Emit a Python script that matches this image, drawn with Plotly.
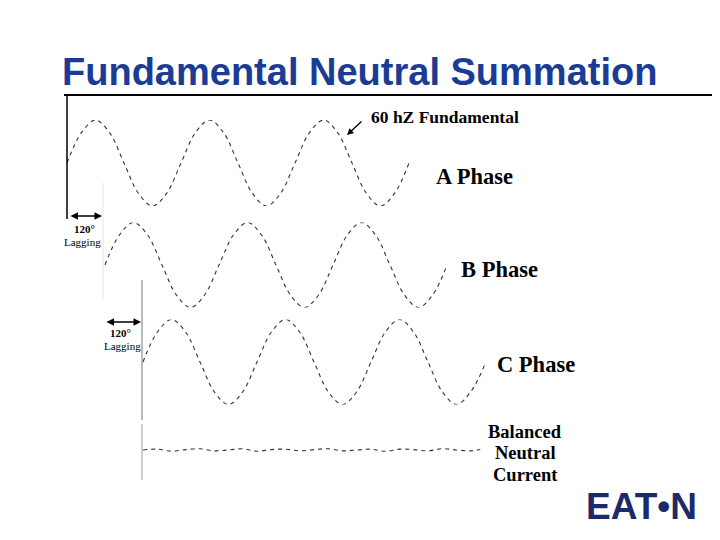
import plotly.graph_objects as go

# ---------------- data (phase angle in degrees, normalised current) ----------------
A_deg = [0, 45, 90, 135, 180, 225, 270, 315, 360, 405, 450, 495, 540, 585, 630, 675,
         720, 765, 810, 855, 900, 945, 990, 1035, 1080]
A_val = [0, 0.7, 1, 0.7, 0, -0.7, -1, -0.7, 0, 0.7, 1, 0.7, 0, -0.7, -1, -0.7,
         0, 0.7, 1, 0.7, 0, -0.7, -1, -0.7, 0]

B_deg = [120, 165, 210, 255, 300, 345, 390, 435, 480, 525, 570, 615, 660, 705, 750, 795,
         840, 885, 930, 975, 1020, 1065, 1110, 1155, 1200]
B_val = [0, 0.7, 1, 0.7, 0, -0.7, -1, -0.7, 0, 0.7, 1, 0.7, 0, -0.7, -1, -0.7,
         0, 0.7, 1, 0.7, 0, -0.7, -1, -0.7, 0]

C_deg = [240, 285, 330, 375, 420, 465, 510, 555, 600, 645, 690, 735, 780, 825, 870, 915,
         960, 1005, 1050, 1095, 1140, 1185, 1230, 1275, 1320]
C_val = [0, 0.7, 1, 0.7, 0, -0.7, -1, -0.7, 0, 0.7, 1, 0.7, 0, -0.7, -1, -0.7,
         0, 0.7, 1, 0.7, 0, -0.7, -1, -0.7, -0.05]

N_deg = [240, 285, 330, 375, 420, 465, 510, 555, 600, 645, 690, 735, 780, 825, 870, 915,
         960, 1005, 1050, 1095, 1140, 1185, 1230, 1275, 1305]
N_val = [0, 0.02, -0.03, 0.01, 0.03, -0.02, 0, 0.03, -0.03, 0.01, 0.02, -0.02, 0.01,
         0.03, -0.02, 0, 0.02, -0.03, 0.02, 0.01, -0.02, 0.03, 0, -0.02, 0.01]

title_text = "Fundamental Neutral Summation"
wave_labels = ["A Phase", "B Phase", "C Phase"]
neutral_label = ["Balanced", "Neutral", "Current"]
fund_label = "60 hZ Fundamental"
lag_label = ["120°", "Lagging"]
logo_text = "EAT•N"

# ---------------- layout helpers (page pixel -> paper) ----------------
W, H = 720, 540
OFF = 8  # default page body margin
def px(x):
    return (x - OFF) / W
def py(y):
    return 1 - (y - OFF) / H

PX_PER_DEG = 114 / 360.0
X0_PX = 67
x_range = [(OFF - X0_PX) / PX_PER_DEG, (W + OFF - X0_PX) / PX_PER_DEG]

def dom(center, amp):
    return [1 - (center + amp - OFF) / H, 1 - (center - amp - OFF) / H]

fig = go.Figure()
wave_line = dict(color="#333333", width=1.1, dash="4px,4px", shape="spline")
for xs, ys, ax in [(A_deg, A_val, "y"), (B_deg, B_val, "y2"), (C_deg, C_val, "y3"),
                   (N_deg, N_val, "y4")]:
    fig.add_trace(go.Scatter(x=xs, y=ys, mode="lines", yaxis=ax, line=wave_line,
                             hoverinfo="skip", showlegend=False))

hidden = dict(visible=False, range=[-1, 1], fixedrange=True)
fig.update_layout(
    width=W, height=H,
    margin=dict(l=0, r=0, t=0, b=0),
    paper_bgcolor="white", plot_bgcolor="white",
    xaxis=dict(visible=False, range=x_range, domain=[0, 1]),
    yaxis=dict(domain=dom(163, 43), **hidden),
    yaxis2=dict(domain=dom(265, 42.5), **hidden),
    yaxis3=dict(domain=dom(362, 42.5), **hidden),
    yaxis4=dict(domain=dom(450, 42), **hidden),
    showlegend=False,
)

def label(text, x, y, size, family, color="black", xanchor="center"):
    fig.add_annotation(xref="paper", yref="paper", x=px(x), y=py(y), xanchor=xanchor,
                       yanchor="middle", showarrow=False, text=text,
                       font=dict(family=family, size=size, color=color))

serif = "Liberation Serif, Times New Roman"
sans = "Liberation Sans, Arial"

# title
label("<b>" + title_text + "</b>", 60, 72, 38, sans, color="#1a3c96", xanchor="left")

# rules
shapes = [
    dict(type="line", xref="paper", yref="paper", x0=px(64), x1=px(730), y0=py(95), y1=py(95),
         line=dict(color="black", width=2)),
    dict(type="line", xref="paper", yref="paper", x0=px(67), x1=px(67), y0=py(95), y1=py(219),
         line=dict(color="black", width=1.5)),
    dict(type="line", xref="paper", yref="paper", x0=px(103), x1=px(103), y0=py(183), y1=py(300),
         line=dict(color="#e4e4e4", width=1)),
    dict(type="line", xref="paper", yref="paper", x0=px(142), x1=px(142), y0=py(280), y1=py(420),
         line=dict(color="#777777", width=1)),
    dict(type="line", xref="paper", yref="paper", x0=px(142), x1=px(142), y0=py(424), y1=py(480),
         line=dict(color="#999999", width=1)),
]
fig.update_layout(shapes=shapes)

# 120 lagging arrows
for x_a, x_b, y_ar, cx1, cx2, y1, y2 in [(69, 102, 216, 84, 82, 229, 242),
                                         (105, 141, 322, 120, 122, 333, 346)]:
    fig.add_annotation(xref="paper", yref="paper", x=px(x_b), y=py(y_ar), ax=x_a - x_b, ay=0,
                       axref="pixel", ayref="pixel", text="", showarrow=True,
                       arrowhead=2, arrowsize=1, arrowwidth=1.5, arrowside="end+start",
                       arrowcolor="black")
    label("<b>" + lag_label[0] + "</b>", cx1, y1, 11, serif)
    label(lag_label[1], cx2, y2, 11, serif)

# 60 hz label + arrow
fig.add_annotation(xref="paper", yref="paper", x=px(347), y=py(135), ax=16, ay=-15,
                   text="", showarrow=True, arrowhead=2, arrowsize=1, arrowwidth=1.3,
                   arrowcolor="black")
label("<b>" + fund_label + "</b>", 369, 117.5, 17.5, serif, xanchor="left")

# phase labels
for lab, xl, yl in zip(wave_labels, [434, 459, 495], [176, 269, 364]):
    label("<b>" + lab + "</b>", xl, yl, 22.5, serif, xanchor="left")

for lab, yl in zip(neutral_label, [432, 453, 475]):
    label("<b>" + lab + "</b>", 525, yl, 18.5, serif)

# logo
label("<b>" + logo_text + "</b>", 641, 506, 37, sans, color="#1b2a6b")

fig.write_html("out.html")
